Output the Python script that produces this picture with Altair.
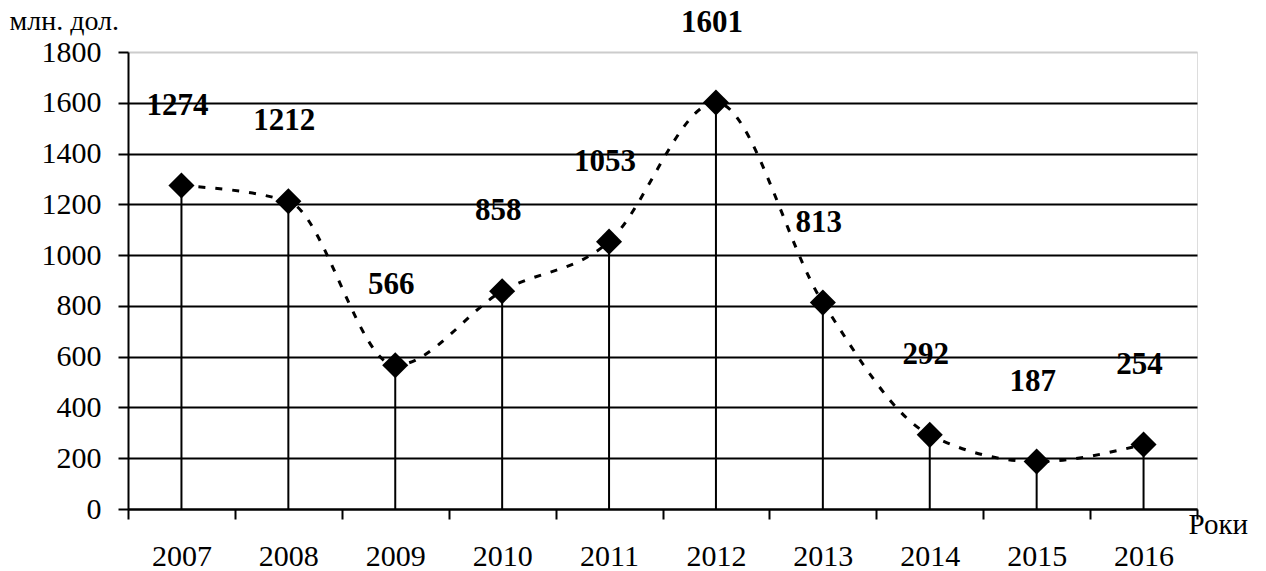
import altair as alt
import pandas as pd

# Annual volumes, million dollars
years = ["2007", "2008", "2009", "2010", "2011", "2012", "2013", "2014", "2015", "2016"]
values = [1274, 1212, 566, 858, 1053, 1601, 813, 292, 187, 254]
y_ticks = [0, 200, 400, 600, 800, 1000, 1200, 1400, 1600, 1800]

df = pd.DataFrame({"year": years, "value": values})

FONT = "Liberation Serif"
W, H = 1069, 457

x_enc = alt.X(
    "year:O",
    scale=alt.Scale(paddingInner=0, paddingOuter=0),
    axis=alt.Axis(
        title="Роки",
        titleFont=FONT, titleFontSize=29, titleFontWeight="normal", titleColor="black",
        titleAngle=0, titleAlign="left", titleBaseline="alphabetic",
        titleX=1060, titleY=24,
        tickBand="extent", labelAngle=0,
        labelFont=FONT, labelFontSize=30, labelColor="black", labelPadding=22,
        tickSize=10, tickColor="black", tickWidth=2,
        domainColor="black", domainWidth=2, grid=False,
    ),
)

y_scale = alt.Scale(domain=[0, 1800], nice=False, zero=True)
y_axis = alt.Axis(
    title="млн. дол.",
    titleFont=FONT, titleFontSize=28, titleFontWeight="normal", titleColor="black",
    titleAngle=0, titleAlign="left", titleBaseline="alphabetic",
    titleX=-119, titleY=-23,
    values=y_ticks, format="d",
    labelFont=FONT, labelFontSize=30, labelColor="black", labelPadding=17,
    tickSize=10, tickColor="black", tickWidth=2,
    domainColor="black", domainWidth=2,
    grid=True, gridWidth=2,
    gridColor=alt.condition("datum.value == 1800", alt.value("#cccccc"), alt.value("black")),
)

base = alt.Chart(df)

drops = base.mark_rule(color="black", strokeWidth=2).encode(
    x=x_enc,
    y=alt.Y("value:Q", scale=y_scale, axis=y_axis),
    y2=alt.datum(0),
)

line = base.mark_line(
    interpolate="monotone", color="black", strokeWidth=3, strokeDash=[7, 10]
).encode(x="year:O", y="value:Q")

points = base.mark_point(
    shape="diamond", filled=True, color="black", size=680, opacity=1
).encode(x="year:O", y="value:Q")

labels = base.mark_text(
    font=FONT, fontSize=31, fontWeight="bold", color="black", dy=-80, dx=-4
).encode(x="year:O", y="value:Q", text="value:Q")

chart = (
    alt.layer(drops, line, points, labels)
    .properties(
        width=W, height=H,
        autosize=alt.AutoSizeParams(type="none"),
        padding={"left": 128, "top": 52, "right": 69, "bottom": 62},
    )
    .configure_view(stroke=None)
    .configure(background="white")
)

chart.save("out.html", embed_options={"renderer": "svg", "actions": False})
